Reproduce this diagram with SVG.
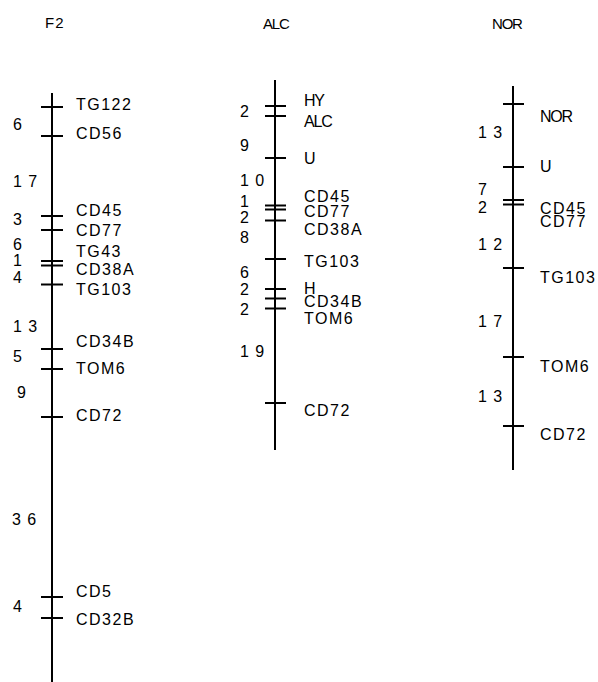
<svg xmlns="http://www.w3.org/2000/svg" width="598" height="682" viewBox="0 0 598 682">
  <style>
    .axis { stroke: #000; stroke-width: 2; fill: none; }
    .tick { stroke: #000; stroke-width: 2; }
    .lbl { font-family: "Liberation Sans", Arial, sans-serif; font-size: 16px; letter-spacing: 1.5px; fill: #000; }
    .num { font-family: "Liberation Sans", Arial, sans-serif; font-size: 16px; letter-spacing: 1px; fill: #000; }
    .head { font-family: "Liberation Sans", Arial, sans-serif; font-size: 15px; letter-spacing: 1px; fill: #000; }
    .tight { letter-spacing: -1.2px; }
  </style>
  <rect width="598" height="682" fill="#fff"/>

  <!-- F2 linkage group -->
  <g id="map-F2">
    <text class="head" x="45" y="28">F2</text>
    <line class="axis" x1="52" y1="93" x2="52" y2="682"/>
    <g id="F2-ticks">
      <line class="tick" x1="41" y1="107" x2="63" y2="107"/>
      <line class="tick" x1="41" y1="136" x2="63" y2="136"/>
      <line class="tick" x1="41" y1="216" x2="63" y2="216"/>
      <line class="tick" x1="41" y1="230" x2="63" y2="230"/>
      <line class="tick" x1="41" y1="261" x2="63" y2="261"/>
      <line class="tick" x1="41" y1="265.5" x2="63" y2="265.5"/>
      <line class="tick" x1="41" y1="284.5" x2="63" y2="284.5"/>
      <line class="tick" x1="41" y1="349" x2="63" y2="349"/>
      <line class="tick" x1="41" y1="369" x2="63" y2="369"/>
      <line class="tick" x1="41" y1="417" x2="63" y2="417"/>
      <line class="tick" x1="41" y1="597" x2="63" y2="597"/>
      <line class="tick" x1="41" y1="618" x2="63" y2="618"/>
    </g>
    <g id="F2-labels">
      <text class="lbl" x="76" y="110">TG122</text>
      <text class="lbl" x="76" y="139">CD56</text>
      <text class="lbl" x="76" y="216">CD45</text>
      <text class="lbl" x="76" y="236">CD77</text>
      <text class="lbl" x="76" y="257">TG43</text>
      <text class="lbl" x="76" y="275">CD38A</text>
      <text class="lbl" x="76" y="295">TG103</text>
      <text class="lbl" x="76" y="347">CD34B</text>
      <text class="lbl" x="76" y="374">TOM6</text>
      <text class="lbl" x="76" y="421">CD72</text>
      <text class="lbl" x="76" y="597">CD5</text>
      <text class="lbl" x="76" y="625">CD32B</text>
    </g>
    <g id="F2-distances">
      <text class="num" x="13" y="130">6</text>
      <text class="num" x="13" y="187">1 7</text>
      <text class="num" x="13" y="225">3</text>
      <text class="num" x="13" y="250">6</text>
      <text class="num" x="13" y="266">1</text>
      <text class="num" x="13" y="283">4</text>
      <text class="num" x="13" y="332">1 3</text>
      <text class="num" x="13" y="362">5</text>
      <text class="num" x="17" y="398">9</text>
      <text class="num" x="12" y="525">3 6</text>
      <text class="num" x="13" y="612">4</text>
    </g>
  </g>

  <!-- ALC linkage group -->
  <g id="map-ALC">
    <text class="head tight" x="263" y="29">ALC</text>
    <line class="axis" x1="275" y1="80" x2="275" y2="450"/>
    <g id="ALC-ticks">
      <line class="tick" x1="265" y1="106" x2="286" y2="106"/>
      <line class="tick" x1="265" y1="116" x2="286" y2="116"/>
      <line class="tick" x1="265" y1="158" x2="286" y2="158"/>
      <line class="tick" x1="265" y1="205.5" x2="286" y2="205.5"/>
      <line class="tick" x1="265" y1="209.5" x2="286" y2="209.5"/>
      <line class="tick" x1="265" y1="220.5" x2="286" y2="220.5"/>
      <line class="tick" x1="265" y1="259" x2="286" y2="259"/>
      <line class="tick" x1="265" y1="289" x2="286" y2="289"/>
      <line class="tick" x1="265" y1="298.5" x2="286" y2="298.5"/>
      <line class="tick" x1="265" y1="308.5" x2="286" y2="308.5"/>
      <line class="tick" x1="265" y1="403" x2="286" y2="403"/>
    </g>
    <g id="ALC-labels">
      <text class="lbl tight" x="304" y="106">HY</text>
      <text class="lbl tight" x="304" y="127">ALC</text>
      <text class="lbl" x="304" y="164">U</text>
      <text class="lbl" x="304" y="202">CD45</text>
      <text class="lbl" x="304" y="217">CD77</text>
      <text class="lbl" x="304" y="235">CD38A</text>
      <text class="lbl" x="304" y="267">TG103</text>
      <text class="lbl" x="304" y="294">H</text>
      <text class="lbl" x="304" y="307">CD34B</text>
      <text class="lbl" x="304" y="324">TOM6</text>
      <text class="lbl" x="304" y="416">CD72</text>
    </g>
    <g id="ALC-distances">
      <text class="num" x="240" y="117">2</text>
      <text class="num" x="240" y="151">9</text>
      <text class="num" x="240" y="186">1 0</text>
      <text class="num" x="240" y="207">1</text>
      <text class="num" x="240" y="223">2</text>
      <text class="num" x="240" y="243">8</text>
      <text class="num" x="240" y="278">6</text>
      <text class="num" x="240" y="295">2</text>
      <text class="num" x="240" y="315">2</text>
      <text class="num" x="240" y="357">1 9</text>
    </g>
  </g>

  <!-- NOR linkage group -->
  <g id="map-NOR">
    <text class="head tight" x="492" y="29">NOR</text>
    <line class="axis" x1="513" y1="86" x2="513" y2="470"/>
    <g id="NOR-ticks">
      <line class="tick" x1="503" y1="104" x2="524" y2="104"/>
      <line class="tick" x1="503" y1="167" x2="524" y2="167"/>
      <line class="tick" x1="503" y1="200" x2="524" y2="200"/>
      <line class="tick" x1="503" y1="204.5" x2="524" y2="204.5"/>
      <line class="tick" x1="503" y1="268" x2="524" y2="268"/>
      <line class="tick" x1="503" y1="357" x2="524" y2="357"/>
      <line class="tick" x1="503" y1="426" x2="524" y2="426"/>
    </g>
    <g id="NOR-labels">
      <text class="lbl tight" x="540" y="122">NOR</text>
      <text class="lbl" x="540" y="172">U</text>
      <text class="lbl" x="540" y="214">CD45</text>
      <text class="lbl" x="540" y="227">CD77</text>
      <text class="lbl" x="540" y="283">TG103</text>
      <text class="lbl" x="540" y="372">TOM6</text>
      <text class="lbl" x="540" y="440">CD72</text>
    </g>
    <g id="NOR-distances">
      <text class="num" x="478" y="138">1 3</text>
      <text class="num" x="478" y="195">7</text>
      <text class="num" x="478" y="213">2</text>
      <text class="num" x="478" y="250">1 2</text>
      <text class="num" x="478" y="327">1 7</text>
      <text class="num" x="478" y="402">1 3</text>
    </g>
  </g>
</svg>
